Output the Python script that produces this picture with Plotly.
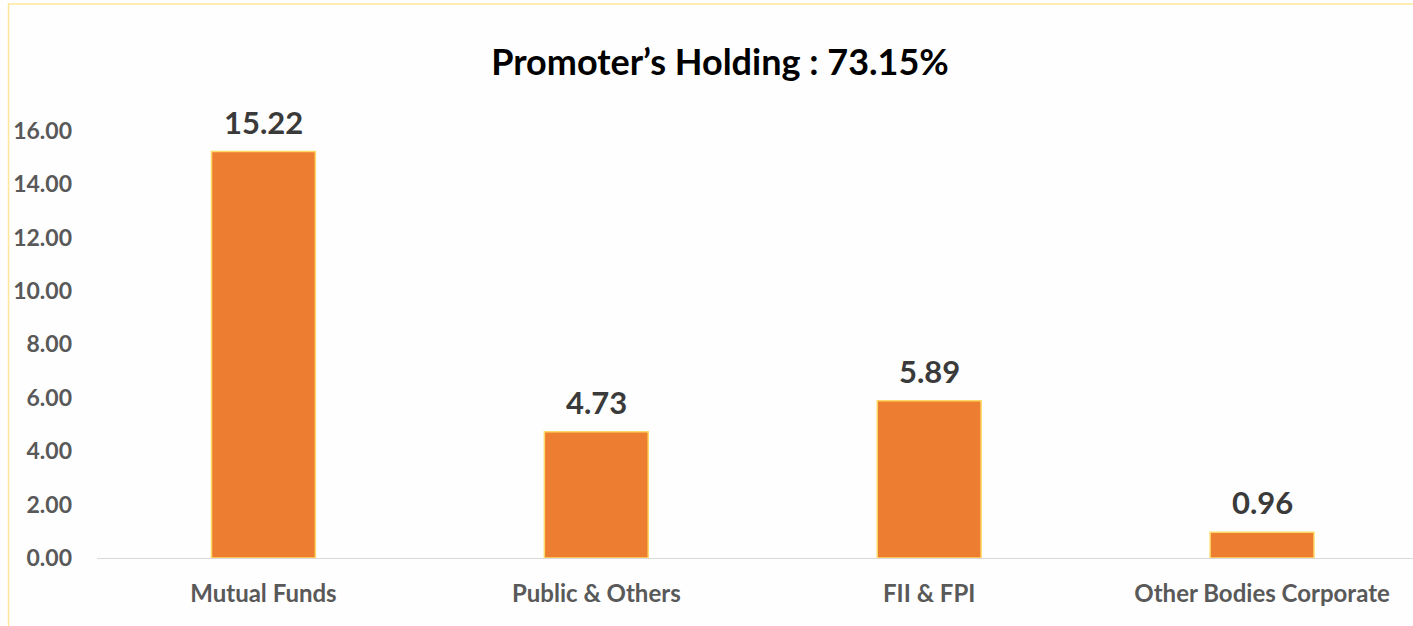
import plotly.graph_objects as go

categories = ["Mutual Funds", "Public & Others", "FII & FPI", "Other Bodies Corporate"]
holdings = [15.22, 4.73, 5.89, 0.96]
title_text = "Promoter’s Holding : 73.15%"
y_ticks = [0, 2, 4, 6, 8, 10, 12, 14, 16]

FONT = "Lato"

fig = go.Figure(
    go.Bar(
        x=categories,
        y=holdings,
        marker=dict(color="#ED7D31", line=dict(color="#FFD966", width=1.5)),
        cliponaxis=False,
    )
)

for c, v in zip(categories, holdings):
    fig.add_annotation(
        x=c, y=v, xref="x", yref="y",
        text=f"{v:.2f}", showarrow=False,
        yanchor="bottom", yshift=9,
        font=dict(family=FONT, size=31, color="#3A3A3A", weight="bold"),
    )

W, H = 1413, 626
left, right_px, top, bottom = 96.5, 1413, 104, 558

fig.update_layout(
    width=W,
    height=H,
    margin=dict(l=left, r=W - right_px, t=top, b=H - bottom, pad=0),
    paper_bgcolor="#FEFEFE",
    plot_bgcolor="rgba(0,0,0,0)",
    showlegend=False,
    bargap=0.688,
    title=dict(
        text=title_text,
        x=720 / W, xref="container", xanchor="center",
        y=1 - 62 / H, yref="container", yanchor="middle",
        font=dict(family=FONT, size=36, color="#000000", weight="bold"),
    ),
    xaxis=dict(
        range=[-0.5, 3.5 - 15.5 / 333],
        showline=True, linecolor="#D9D9D9", linewidth=1,
        showgrid=False, ticks="",
        tickfont=dict(family=FONT, size=24, color="#595959", weight="bold"),
        ticklabelstandoff=14,
    ),
    yaxis=dict(
        range=[0, 17],
        tickvals=y_ticks,
        tickformat=".2f",
        showgrid=False, zeroline=False, showline=False, ticks="",
        tickfont=dict(family=FONT, size=23, color="#595959", weight="bold"),
        ticklabelstandoff=24,
    ),
    shapes=[
        dict(type="rect", xref="paper", yref="paper",
             x0=(8 - left) / (right_px - left), x1=1.2,
             y0=-0.3, y1=(bottom - 4) / (bottom - top),
             line=dict(color="#FFE699", width=1.5), fillcolor="rgba(0,0,0,0)", layer="below"),
    ],
)

fig.write_html("out.html", config={"displayModeBar": False},
               post_script="document.body.style.margin='0';")
